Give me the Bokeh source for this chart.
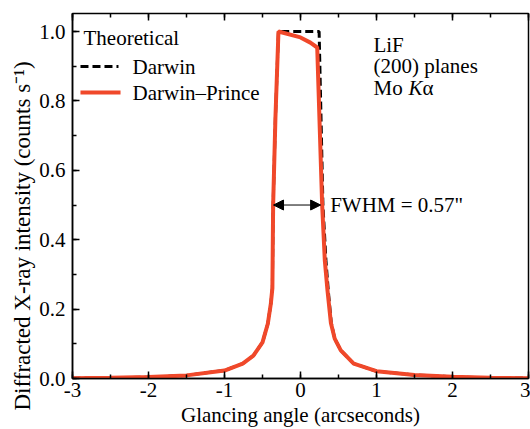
from bokeh.plotting import figure
from bokeh.models import (Range1d, SingleIntervalTicker, PrintfTickFormatter, LinearAxis,
                          CustomJSTickFormatter, Label, Arrow, NormalHead, Title)
from bokeh.embed import file_html
from bokeh.resources import INLINE

# ---- data ----
dp_x = [-3.0, -2.5, -2.0, -1.5, -1.0, -0.76, -0.62, -0.5, -0.43, -0.39, -0.37, -0.36, -0.33, -0.29,
        0.0, 0.13, 0.22, 0.285, 0.32, 0.355, 0.40, 0.45, 0.53, 0.70, 1.0, 1.5, 2.0, 2.5, 3.0]
dp_y = [0.001, 0.002, 0.004, 0.009, 0.023, 0.043, 0.066, 0.104, 0.158, 0.216, 0.26, 0.5, 0.75, 1.0,
        0.983, 0.968, 0.954, 0.5, 0.34, 0.254, 0.16, 0.115, 0.081, 0.043, 0.021, 0.010, 0.005, 0.002, 0.001]

dw_x = [-3.0, -2.5, -2.0, -1.5, -1.0, -0.76, -0.62, -0.5, -0.43, -0.39, -0.37, -0.36, -0.33, -0.29,
        0.245, 0.25, 0.295, 0.335, 0.365, 0.405, 0.45, 0.53, 0.70, 1.0, 1.5, 2.0, 2.5, 3.0]
dw_y = [0.001, 0.002, 0.004, 0.009, 0.023, 0.043, 0.066, 0.104, 0.158, 0.216, 0.26, 0.5, 0.75, 1.0,
        1.0, 0.95, 0.5, 0.34, 0.254, 0.16, 0.115, 0.081, 0.043, 0.021, 0.010, 0.005, 0.002, 0.001]

half_max = 0.5
fwhm_left, fwhm_right = -0.355, 0.265
fwhm_text = 'FWHM = 0.57"'
legend_title = "Theoretical"
series_names = ["Darwin", "Darwin\u2013Prince"]
info_lines = ["LiF", "(200) planes"]
x_title = "Glancing angle (arcseconds)"
y_title = "Diffracted X-ray intensity (counts s\u207b\u00b9)"

FONT = "Liberation Serif"
FS = "21px"
RED = "#F0482A"

p = figure(width=530, height=429, frame_width=456, frame_height=365,
           output_backend="svg", toolbar_location=None,
           x_range=Range1d(-3, 3), y_range=Range1d(0, 1.052),
           min_border_left=72, min_border_right=2, min_border_top=13, min_border_bottom=51)
p.background_fill_color = "white"
p.border_fill_color = "white"
p.grid.visible = False
p.outline_line_color = "black"
p.outline_line_width = 1.5

p.xaxis.ticker = SingleIntervalTicker(interval=1, num_minor_ticks=2)
p.yaxis.ticker = SingleIntervalTicker(interval=0.2, num_minor_ticks=2)
p.xaxis.formatter = PrintfTickFormatter(format="%d")
p.yaxis.formatter = PrintfTickFormatter(format="%.1f")
p.xaxis.axis_label = x_title

for ax in (p.xaxis[0], p.yaxis[0]):
    ax.axis_line_color = "black"
    ax.axis_line_width = 1.5
    ax.major_tick_in = 7
    ax.major_tick_out = 0
    ax.minor_tick_in = 4
    ax.minor_tick_out = 0
    ax.major_tick_line_width = 1.5
    ax.minor_tick_line_width = 1.5
    ax.major_label_text_font = FONT
    ax.major_label_text_font_size = FS
    ax.major_label_text_color = "black"
    ax.axis_label_text_font = FONT
    ax.axis_label_text_font_size = FS
    ax.axis_label_text_font_style = "normal"
    ax.axis_label_text_color = "black"
p.xaxis.major_label_standoff = 4
p.xaxis.axis_label_standoff = 3
p.yaxis.major_label_standoff = 7

top = LinearAxis(ticker=SingleIntervalTicker(interval=1, num_minor_ticks=2),
                 formatter=CustomJSTickFormatter(code="return ''"),
                 major_label_standoff=0, major_label_text_font_size="1px",
                 axis_line_color=None, major_tick_in=7, major_tick_out=0,
                 minor_tick_in=4, minor_tick_out=0,
                 major_tick_line_width=1.5, minor_tick_line_width=1.5)
p.add_layout(top, "above")

# y-axis title: starts below the frame bottom, as in the reference
p.add_layout(Title(text=y_title, align="left", offset=-32, standoff=4,
                   text_font=FONT, text_font_size="23px", text_font_style="normal",
                   text_color="black"), "left")

dw = p.line(dw_x, dw_y, line_color="black", line_width=3, line_dash="8 4")
dpr = p.line(dp_x, dp_y, line_color=RED, line_width=4)

# legend (drawn by hand so it keeps the serif font)
p.add_layout(Label(x=-2.855, y=0.98, text=legend_title, text_font=FONT, text_font_size=FS,
                   text_baseline="middle", text_color="black"))
p.add_layout(Arrow(start=None, end=None, x_start=-2.895, x_end=-2.395, y_start=0.899, y_end=0.899,
                   line_color="black", line_width=3, line_dash="8 4"))
p.add_layout(Arrow(start=None, end=None, x_start=-2.895, x_end=-2.368, y_start=0.824, y_end=0.824,
                   line_color=RED, line_width=4))
for name, yy in zip(series_names, (0.899, 0.824)):
    p.add_layout(Label(x=-2.21, y=yy, text=name, text_font=FONT, text_font_size=FS,
                       text_baseline="middle", text_color="black"))

p.add_layout(Arrow(start=NormalHead(size=10, fill_color="black", line_color="black"),
                   end=NormalHead(size=10, fill_color="black", line_color="black"),
                   x_start=fwhm_left, y_start=half_max, x_end=fwhm_right, y_end=half_max,
                   line_color="black", line_width=1))
p.add_layout(Label(x=0.39, y=half_max, text=fwhm_text, text_font=FONT, text_font_size=FS,
                   text_baseline="middle", text_color="black"))

info_x = 0.96
for txt, yy in zip(info_lines, (0.96, 0.90)):
    p.add_layout(Label(x=info_x, y=yy, text=txt, text_font=FONT, text_font_size=FS,
                       text_baseline="middle", text_color="black"))
p.add_layout(Label(x=info_x, y=0.836, text="Mo ", text_font=FONT, text_font_size=FS,
                   text_baseline="middle", text_color="black"))
p.add_layout(Label(x=info_x, y=0.836, x_offset=35, text="K", text_font=FONT, text_font_size=FS,
                   text_font_style="italic", text_baseline="middle", text_color="black"))
p.add_layout(Label(x=info_x, y=0.836, x_offset=49, text="\u03b1", text_font=FONT, text_font_size=FS,
                   text_baseline="middle", text_color="black"))

open("out.html", "w").write(file_html(p, INLINE))
